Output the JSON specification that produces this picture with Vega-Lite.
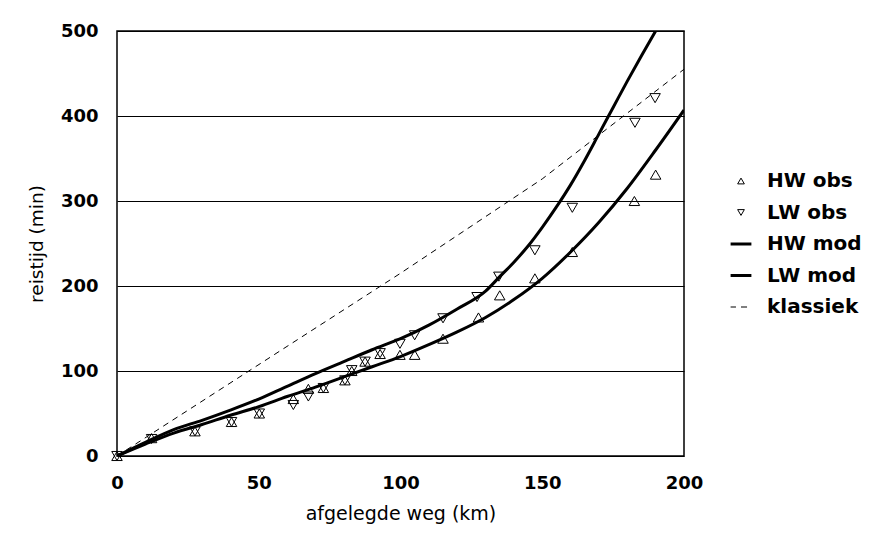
{
  "$schema": "https://vega.github.io/schema/vega-lite/v6.json",
  "width": 567,
  "height": 425,
  "autosize": {"type": "none"},
  "padding": {"left": 117, "top": 31, "right": 205, "bottom": 90},
  "background": "white",
  "config": {
    "view": {"stroke": "black", "strokeWidth": 1.5},
    "axis": {
      "domain": false,
      "ticks": false,
      "labelFlush": false,
      "labelFont": "DejaVu Sans",
      "labelFontWeight": "bold",
      "labelFontSize": 18,
      "labelColor": "black",
      "titleFont": "DejaVu Sans",
      "titleFontWeight": "normal",
      "titleFontSize": 18.5,
      "titleColor": "black"
    }
  },
  "datasets": {
    "pts": [
      {"series": "HW obs", "km": 0, "t": 0},
      {"series": "HW obs", "km": 12.2, "t": 21},
      {"series": "HW obs", "km": 27.5, "t": 29},
      {"series": "HW obs", "km": 40.4, "t": 40},
      {"series": "HW obs", "km": 50.2, "t": 50},
      {"series": "HW obs", "km": 62.2, "t": 67},
      {"series": "HW obs", "km": 67.5, "t": 79},
      {"series": "HW obs", "km": 72.8, "t": 80},
      {"series": "HW obs", "km": 80.4, "t": 89},
      {"series": "HW obs", "km": 82.8, "t": 100},
      {"series": "HW obs", "km": 87.5, "t": 111},
      {"series": "HW obs", "km": 92.8, "t": 120},
      {"series": "HW obs", "km": 99.8, "t": 119},
      {"series": "HW obs", "km": 105, "t": 119},
      {"series": "HW obs", "km": 115, "t": 138},
      {"series": "HW obs", "km": 127.5, "t": 163},
      {"series": "HW obs", "km": 135, "t": 189},
      {"series": "HW obs", "km": 147.4, "t": 209},
      {"series": "HW obs", "km": 160.6, "t": 240},
      {"series": "HW obs", "km": 182.5, "t": 300},
      {"series": "HW obs", "km": 190, "t": 331},
      {"series": "LW obs", "km": 0, "t": 0},
      {"series": "LW obs", "km": 12.2, "t": 20},
      {"series": "LW obs", "km": 27.5, "t": 29},
      {"series": "LW obs", "km": 40.4, "t": 40},
      {"series": "LW obs", "km": 50.2, "t": 50},
      {"series": "LW obs", "km": 62.2, "t": 60},
      {"series": "LW obs", "km": 67.5, "t": 70},
      {"series": "LW obs", "km": 72.8, "t": 80},
      {"series": "LW obs", "km": 80.4, "t": 89},
      {"series": "LW obs", "km": 82.8, "t": 101},
      {"series": "LW obs", "km": 87.5, "t": 111},
      {"series": "LW obs", "km": 92.8, "t": 121},
      {"series": "LW obs", "km": 99.8, "t": 132},
      {"series": "LW obs", "km": 105, "t": 142},
      {"series": "LW obs", "km": 115, "t": 162},
      {"series": "LW obs", "km": 127, "t": 187},
      {"series": "LW obs", "km": 134.7, "t": 211},
      {"series": "LW obs", "km": 147.4, "t": 242},
      {"series": "LW obs", "km": 160.6, "t": 292},
      {"series": "LW obs", "km": 182.7, "t": 392},
      {"series": "LW obs", "km": 189.8, "t": 421}
    ],
    "curves": [
      {"series": "HW mod", "km": 0, "t": 0},
      {"series": "HW mod", "km": 10, "t": 14},
      {"series": "HW mod", "km": 20, "t": 27},
      {"series": "HW mod", "km": 30, "t": 37},
      {"series": "HW mod", "km": 40, "t": 48},
      {"series": "HW mod", "km": 50, "t": 58},
      {"series": "HW mod", "km": 60, "t": 70},
      {"series": "HW mod", "km": 70, "t": 81},
      {"series": "HW mod", "km": 80, "t": 93},
      {"series": "HW mod", "km": 90, "t": 105},
      {"series": "HW mod", "km": 100, "t": 117},
      {"series": "HW mod", "km": 110, "t": 131},
      {"series": "HW mod", "km": 120, "t": 146},
      {"series": "HW mod", "km": 130, "t": 163},
      {"series": "HW mod", "km": 140, "t": 184},
      {"series": "HW mod", "km": 150, "t": 209},
      {"series": "HW mod", "km": 160, "t": 240},
      {"series": "HW mod", "km": 170, "t": 275},
      {"series": "HW mod", "km": 180, "t": 315},
      {"series": "HW mod", "km": 190, "t": 360},
      {"series": "HW mod", "km": 200, "t": 407},
      {"series": "LW mod", "km": 0, "t": 0},
      {"series": "LW mod", "km": 10, "t": 16},
      {"series": "LW mod", "km": 20, "t": 31},
      {"series": "LW mod", "km": 30, "t": 42},
      {"series": "LW mod", "km": 40, "t": 54},
      {"series": "LW mod", "km": 50, "t": 67},
      {"series": "LW mod", "km": 60, "t": 82},
      {"series": "LW mod", "km": 70, "t": 97},
      {"series": "LW mod", "km": 80, "t": 111},
      {"series": "LW mod", "km": 90, "t": 125},
      {"series": "LW mod", "km": 100, "t": 138},
      {"series": "LW mod", "km": 110, "t": 154},
      {"series": "LW mod", "km": 120, "t": 173},
      {"series": "LW mod", "km": 130, "t": 194},
      {"series": "LW mod", "km": 135, "t": 211},
      {"series": "LW mod", "km": 140, "t": 228},
      {"series": "LW mod", "km": 145, "t": 247},
      {"series": "LW mod", "km": 150, "t": 269},
      {"series": "LW mod", "km": 155, "t": 293},
      {"series": "LW mod", "km": 160, "t": 319},
      {"series": "LW mod", "km": 165, "t": 348},
      {"series": "LW mod", "km": 170, "t": 379},
      {"series": "LW mod", "km": 175, "t": 410},
      {"series": "LW mod", "km": 180, "t": 441},
      {"series": "LW mod", "km": 185, "t": 471},
      {"series": "LW mod", "km": 190, "t": 500}
    ],
    "klassiek": [
      {"series": "klassiek", "km": 0, "t": 0},
      {"series": "klassiek", "km": 100, "t": 215},
      {"series": "klassiek", "km": 150, "t": 326},
      {"series": "klassiek", "km": 200, "t": 455}
    ]
  },
  "encoding": {
    "x": {
      "field": "km", "type": "quantitative",
      "scale": {"domain": [0, 200], "nice": false},
      "axis": {"values": [0, 50, 100, 150, 200], "grid": false, "labelPadding": 18, "title": "afgelegde weg (km)", "titlePadding": 12, "titleFontSize": 19}
    },
    "y": {
      "field": "t", "type": "quantitative",
      "scale": {"domain": [0, 500], "nice": false},
      "axis": {"values": [0, 100, 200, 300, 400, 500], "grid": true, "gridColor": "black", "gridWidth": 1, "gridOpacity": 1, "labelPadding": 19, "title": "reistijd (min)", "titlePadding": 14}
    }
  },
  "layer": [
    {
      "data": {"name": "klassiek"},
      "mark": {"type": "line", "color": "black", "strokeWidth": 1, "strokeDash": [6, 5], "clip": true}
    },
    {
      "data": {"name": "curves"},
      "mark": {"type": "line", "color": "black", "strokeWidth": 3, "interpolate": "monotone", "clip": true},
      "encoding": {"detail": {"field": "series", "type": "nominal"}}
    },
    {
      "data": {"name": "pts"},
      "mark": {"type": "point", "filled": false, "stroke": "black", "size": 110, "opacity": 1},
      "encoding": {
        "shape": {
          "field": "series", "type": "nominal",
          "scale": {
            "domain": ["HW obs", "LW obs", "HW mod", "LW mod", "klassiek"],
            "range": ["triangle-up", "triangle-down", "M-3.1,0H3.1", "M-3.1,0H3.1", "M-3.1,0H-1.5M0,0H1.8"]
          },
          "legend": {
            "title": null,
            "orient": "none",
            "legendX": 614,
            "legendY": 140,
            "symbolSize": 45,
            "symbolStrokeColor": "black",
            "symbolFillColor": "transparent",
            "labelFont": "DejaVu Sans",
            "labelFontWeight": "bold",
            "labelFontSize": 20,
            "labelColor": "black",
            "labelOffset": 16,
            "labelLimit": 250,
            "rowPadding": 11.5
          }
        },
        "strokeWidth": {
          "field": "series", "type": "nominal",
          "scale": {
            "type": "ordinal",
            "domain": ["HW obs", "LW obs", "HW mod", "LW mod", "klassiek"],
            "range": [1, 1, 3, 3, 1]
          },
          "legend": {"title": null}
        }
      }
    }
  ]
}
